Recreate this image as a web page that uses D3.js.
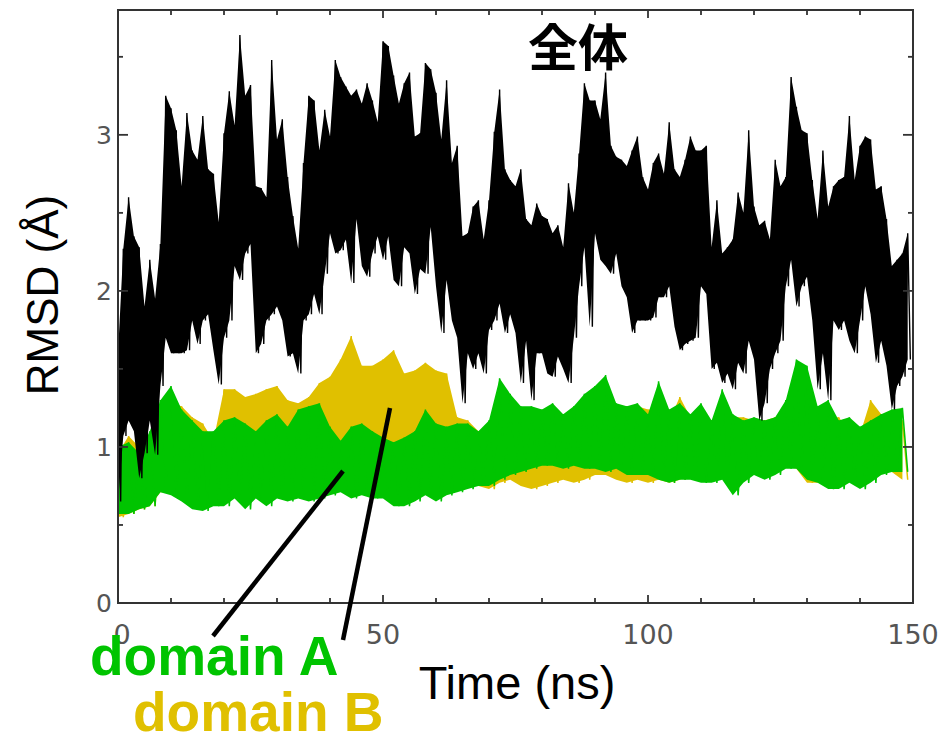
<!DOCTYPE html>
<html>
<head>
<meta charset="utf-8">
<script src="https://cdn.jsdelivr.net/npm/d3@7"></script>
<style>
  body { margin: 0; background: #fff; }
  svg { display: block; }
</style>
</head>
<body>
<script>
// RMSD traces, envelopes
// black (全体): 1 ns bins, t = 0..149
var blackHi = [1.60,2.27,2.60,2.35,2.28,1.90,2.20,1.95,2.30,3.25,
  3.17,3.03,2.67,3.14,2.90,2.84,3.12,2.78,2.75,2.44,
  3.01,3.28,3.06,3.64,3.25,3.32,2.67,2.66,2.60,3.48,
  2.97,3.10,2.73,2.48,2.27,2.82,3.25,3.22,2.90,3.16,
  2.99,3.48,3.37,3.31,3.25,3.29,3.20,3.33,3.22,3.08,
  3.60,3.57,3.38,3.20,3.33,3.40,2.99,3.01,3.46,3.42,
  3.27,2.97,3.35,2.82,2.93,2.35,2.37,2.54,2.58,2.33,
  2.58,3.02,3.29,2.78,2.71,2.67,2.78,2.46,2.42,2.56,
  2.48,2.46,2.37,2.42,2.28,2.69,2.50,2.88,3.33,3.22,
  3.22,3.10,3.40,2.93,2.86,2.84,2.80,2.90,2.99,2.73,
  2.65,2.82,2.88,2.75,3.08,2.78,2.73,2.84,2.99,2.90,
  2.90,2.93,2.28,2.58,2.24,2.28,2.33,2.63,2.50,3.03,
  2.54,2.42,2.45,2.33,2.84,2.67,2.73,3.37,3.18,3.03,
  3.01,2.71,2.46,2.90,2.54,2.67,2.71,2.73,3.12,2.71,
  2.93,2.99,2.97,2.65,2.67,2.46,2.16,2.20,2.24,2.37];
var blackLo = [0.65,1.07,1.17,1.10,0.80,0.96,1.17,0.95,1.39,1.70,
  1.60,1.60,1.60,1.62,1.81,1.66,1.81,1.85,1.62,1.40,
  1.70,1.81,2.16,2.07,2.24,2.30,1.60,1.66,1.81,1.85,
  1.90,1.81,1.58,1.60,1.47,1.81,1.85,1.98,1.85,2.11,
  2.37,2.24,2.26,2.33,2.05,2.46,2.16,2.09,2.24,2.35,
  2.20,2.35,2.07,2.03,2.28,2.24,1.98,2.14,2.11,2.41,
  2.03,1.73,2.07,1.81,1.70,1.28,1.60,1.50,1.60,1.47,
  1.75,1.81,1.92,1.73,1.85,1.73,1.41,1.68,1.30,1.60,
  1.60,1.47,1.45,1.58,1.50,1.41,1.70,2.03,2.28,1.77,
  2.37,2.20,2.16,2.11,2.24,2.03,1.96,1.73,1.81,1.81,
  1.81,1.83,1.96,1.96,2.03,1.77,1.62,1.66,1.68,1.70,
  2.03,1.98,1.50,1.54,1.41,1.47,1.37,1.54,1.47,1.68,
  1.56,1.17,1.28,1.50,1.60,1.68,2.03,2.20,1.90,2.03,
  2.09,1.81,1.37,1.60,1.30,1.81,1.75,1.81,1.68,1.60,
  1.81,2.03,1.85,1.54,1.68,1.52,1.24,1.39,1.45,1.56];

// domain A (green) and domain B (gold): 2 ns bins, t = 0,2,..,148
var greenHi = [1.00,1.03,0.96,1.10,1.30,1.39,1.24,1.17,1.10,1.10,1.17,1.19,1.15,1.10,1.17,1.21,1.13,1.24,1.26,1.28,1.13,1.04,1.13,1.15,1.10,
  1.06,1.03,1.06,1.10,1.24,1.15,1.13,1.15,1.15,1.10,1.17,1.44,1.34,1.26,1.26,1.24,1.28,1.21,1.26,1.34,1.39,1.46,1.28,1.26,1.28,
  1.21,1.42,1.24,1.28,1.21,1.28,1.17,1.37,1.21,1.17,1.19,1.17,1.19,1.30,1.56,1.52,1.26,1.30,1.17,1.19,1.13,1.17,1.21,1.24,1.25];
var greenLo = [0.57,0.57,0.60,0.62,0.71,0.69,0.65,0.60,0.59,0.62,0.62,0.67,0.60,0.67,0.62,0.67,0.65,0.67,0.65,0.67,0.69,0.71,0.67,0.69,0.67,
  0.67,0.62,0.62,0.65,0.69,0.65,0.69,0.71,0.73,0.75,0.75,0.79,0.82,0.84,0.86,0.88,0.88,0.86,0.88,0.86,0.86,0.84,0.86,0.82,0.82,
  0.82,0.79,0.77,0.79,0.79,0.77,0.77,0.79,0.69,0.77,0.82,0.79,0.82,0.86,0.86,0.79,0.77,0.73,0.73,0.77,0.73,0.77,0.82,0.84,0.84];
var goldHi = [0.96,1.07,1.00,1.07,1.17,1.28,1.26,1.19,1.15,1.04,1.37,1.37,1.32,1.34,1.37,1.39,1.30,1.28,1.32,1.41,1.45,1.56,1.71,1.52,1.52,
  1.56,1.62,1.47,1.49,1.54,1.49,1.47,1.19,1.17,1.10,1.13,1.17,1.17,1.10,1.06,1.13,1.17,1.17,1.19,1.15,1.17,1.19,1.24,1.26,1.26,
  1.24,1.24,1.17,1.32,1.19,1.19,1.17,1.17,1.19,1.19,1.17,1.17,1.19,1.24,1.28,1.21,1.17,1.19,1.19,1.10,1.08,1.30,1.21,1.19,1.17];
var goldLo = [0.55,0.57,0.60,0.62,0.71,0.71,0.69,0.67,0.65,0.65,0.67,0.69,0.71,0.71,0.73,0.75,0.75,0.77,0.79,0.84,0.92,0.96,0.99,1.03,1.05,
  0.98,0.98,0.98,1.00,1.00,1.03,1.03,0.77,0.75,0.75,0.73,0.77,0.79,0.75,0.73,0.75,0.77,0.79,0.77,0.79,0.82,0.82,0.79,0.77,0.79,
  0.77,0.79,0.77,0.79,0.82,0.82,0.84,0.84,0.82,0.82,0.84,0.86,0.86,0.88,0.86,0.77,0.77,0.79,0.82,0.79,0.82,0.86,0.84,0.84,0.79];

var xTicks = [0, 50, 100, 150];
var yTicks = [0, 1, 2, 3];

var width = 941, height = 739;
var plotL = 118, plotR = 913, plotT = 10, plotB = 603;

var x = d3.scaleLinear().domain([0, 150]).range([plotL, plotR]);
var y = d3.scaleLinear().domain([0, 3.8]).range([plotB, plotT]);

var svg = d3.select("body").append("svg")
    .attr("width", width)
    .attr("height", height);

svg.append("defs").append("clipPath").attr("id", "plotclip")
    .append("rect")
    .attr("x", plotL).attr("y", plotT)
    .attr("width", plotR - plotL).attr("height", plotB - plotT);

function rows(hi, lo, step) {
    return hi.map(function(h, i) { return {t: i * step, hi: h, lo: lo[i]}; });
}
// zigzag through hi and lo of every bin
function zig(data, step) {
    var pts = [];
    data.forEach(function(d) {
        pts.push([d.t, d.hi]);
        pts.push([d.t + step / 2, d.lo]);
    });
    return pts;
}

var area = d3.area()
    .x(function(d) { return x(d.t); })
    .y0(function(d) { return y(d.lo); })
    .y1(function(d) { return y(d.hi); });

var line = d3.line()
    .x(function(d) { return x(d[0]); })
    .y(function(d) { return y(d[1]); });

var series = [
    {name: "domain B", data: rows(goldHi, goldLo, 2), step: 2, color: "#e0c000", w: 1.5},
    {name: "domain A", data: rows(greenHi, greenLo, 2), step: 2, color: "#00c400", w: 1.5},
    {name: "全体", data: rows(blackHi, blackLo, 1), step: 1, color: "#000", w: 1.4}
];

var plot = svg.append("g").attr("clip-path", "url(#plotclip)");

series.forEach(function(s) {
    plot.append("path")
        .attr("d", area(s.data))
        .attr("fill", s.color);
    plot.append("path")
        .attr("d", line(zig(s.data, s.step)))
        .attr("fill", "none")
        .attr("stroke", s.color)
        .attr("stroke-width", s.w)
        .attr("stroke-linejoin", "miter")
        .attr("stroke-miterlimit", 3);
});

// frame
svg.append("rect")
    .attr("x", plotL).attr("y", plotT)
    .attr("width", plotR - plotL).attr("height", plotB - plotT)
    .attr("fill", "none")
    .attr("stroke", "#333")
    .attr("stroke-width", 2);

// ticks on all four sides, pointing inward
var ax = svg.append("g").attr("stroke", "#333").attr("stroke-width", 1.8);
d3.range(0, 151, 10).forEach(function(t) {
    var len = (t % 50 === 0) ? 8 : 5;
    ax.append("line").attr("x1", x(t)).attr("x2", x(t)).attr("y1", plotB).attr("y2", plotB - len);
    ax.append("line").attr("x1", x(t)).attr("x2", x(t)).attr("y1", plotT).attr("y2", plotT + len);
});
d3.range(0, 3.8, 0.5).forEach(function(v) {
    var len = (v % 1 === 0) ? 10 : 5;
    ax.append("line").attr("x1", plotL).attr("x2", plotL + len).attr("y1", y(v)).attr("y2", y(v));
    ax.append("line").attr("x1", plotR).attr("x2", plotR - len).attr("y1", y(v)).attr("y2", y(v));
});

// tick labels
svg.append("g").selectAll("text")
    .data(xTicks).enter().append("text")
    .attr("x", function(d) { return x(d) + (d === 0 ? 4 : 0); })
    .attr("y", 644)
    .attr("text-anchor", "middle")
    .attr("font-family", "DejaVu Sans")
    .attr("font-size", 27)
    .attr("fill", "#555")
    .text(function(d) { return d; });

svg.append("g").selectAll("text")
    .data(yTicks).enter().append("text")
    .attr("x", 112)
    .attr("y", function(d) { return y(d) + 9; })
    .attr("text-anchor", "end")
    .attr("font-family", "DejaVu Sans")
    .attr("font-size", 25)
    .attr("fill", "#555")
    .text(function(d) { return d; });

// title inside plot
svg.append("text")
    .attr("x", 578).attr("y", 66)
    .attr("text-anchor", "middle")
    .attr("font-family", "Noto Sans CJK JP")
    .attr("font-weight", "bold")
    .attr("font-size", 50)
    .attr("fill", "#000")
    .text("全体");

// axis titles
svg.append("text")
    .attr("transform", "translate(58,295) rotate(-90)")
    .attr("text-anchor", "middle")
    .attr("font-family", "Liberation Sans")
    .attr("font-size", 44)
    .attr("fill", "#000")
    .text("RMSD (Å)");

svg.append("text")
    .attr("x", 517).attr("y", 699)
    .attr("text-anchor", "middle")
    .attr("font-family", "Liberation Sans")
    .attr("font-size", 47)
    .attr("fill", "#000")
    .text("Time (ns)");

// callout lines and labels
var callouts = [
    {from: [213, 636], to: [343, 471]},
    {from: [343, 640], to: [390, 408]}
];
svg.append("g").selectAll("line")
    .data(callouts).enter().append("line")
    .attr("x1", function(d) { return d.from[0]; })
    .attr("y1", function(d) { return d.from[1]; })
    .attr("x2", function(d) { return d.to[0]; })
    .attr("y2", function(d) { return d.to[1]; })
    .attr("stroke", "#000")
    .attr("stroke-width", 4.5);

svg.append("text")
    .attr("x", 90).attr("y", 675)
    .attr("font-family", "Liberation Sans")
    .attr("font-weight", "bold")
    .attr("font-size", 55)
    .attr("fill", "#00c400")
    .text("domain A");

svg.append("text")
    .attr("x", 133).attr("y", 731)
    .attr("font-family", "Liberation Sans")
    .attr("font-weight", "bold")
    .attr("font-size", 55)
    .attr("fill", "#e0c000")
    .text("domain B");
</script>
</body>
</html>
